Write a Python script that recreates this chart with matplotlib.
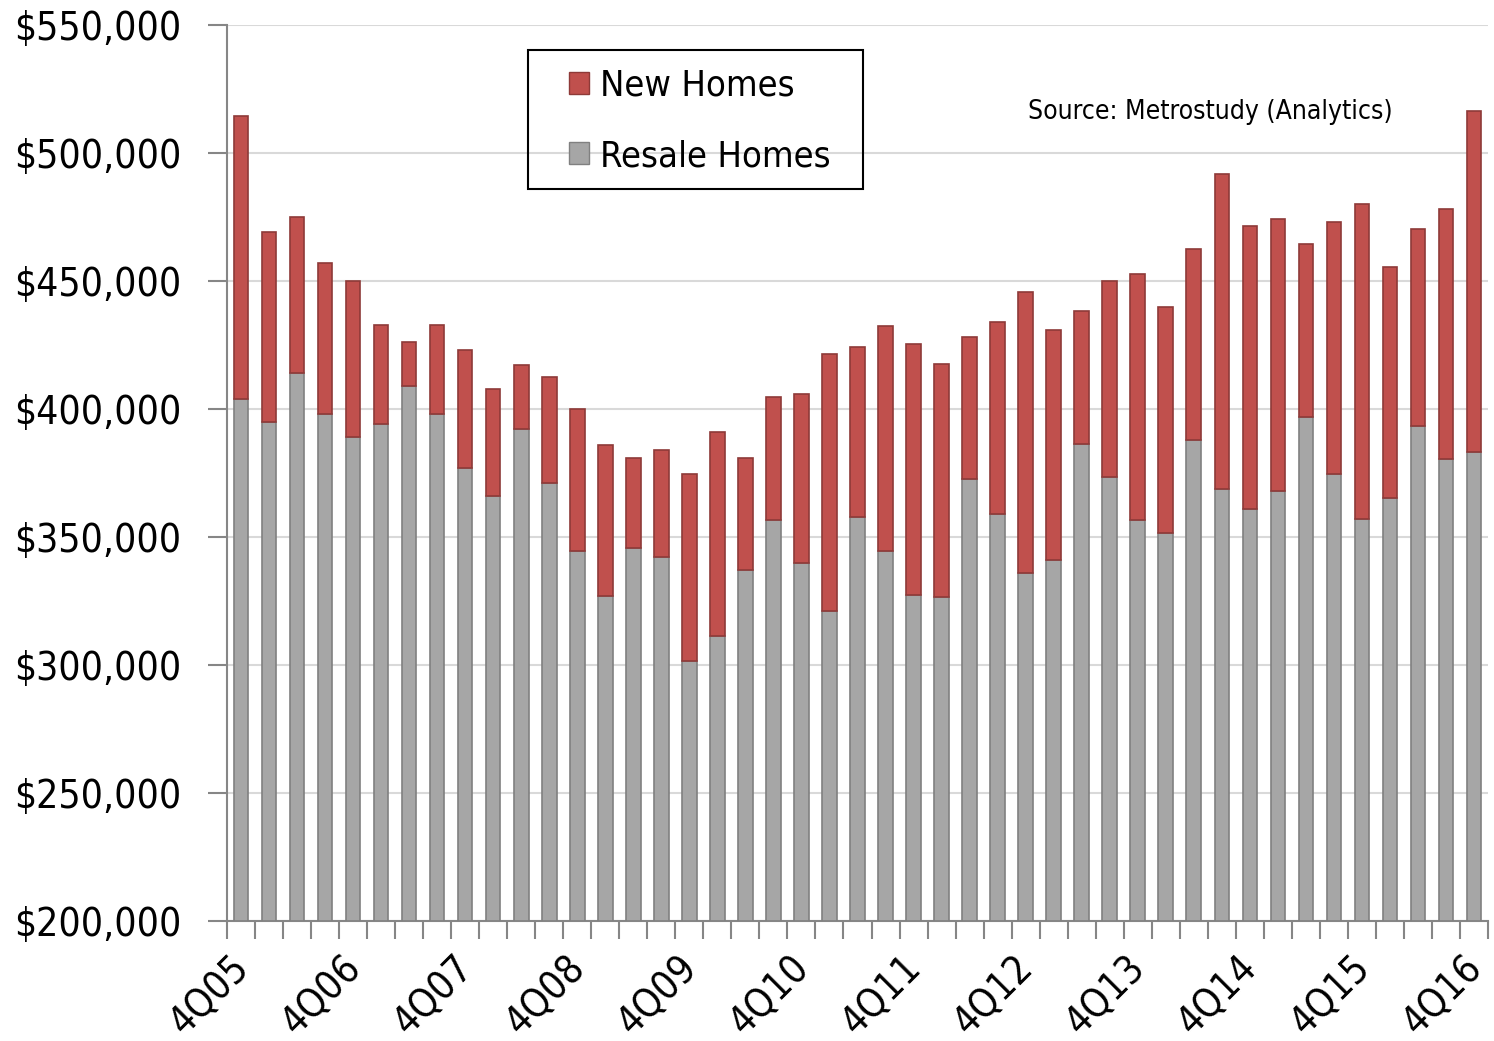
import matplotlib
matplotlib.use('Agg')
import matplotlib.pyplot as plt
import matplotlib.transforms as mtransforms
import numpy as np
from matplotlib.ticker import FuncFormatter, MultipleLocator
from matplotlib.patches import Patch, Rectangle

plt.rcParams['font.family'] = ['DejaVu Sans']
plt.rcParams['font.stretch'] = 'condensed'

quarters = ['4Q05', '1Q06', '2Q06', '3Q06', '4Q06', '1Q07', '2Q07', '3Q07',
            '4Q07', '1Q08', '2Q08', '3Q08', '4Q08', '1Q09', '2Q09', '3Q09',
            '4Q09', '1Q10', '2Q10', '3Q10', '4Q10', '1Q11', '2Q11', '3Q11',
            '4Q11', '1Q12', '2Q12', '3Q12', '4Q12', '1Q13', '2Q13', '3Q13',
            '4Q13', '1Q14', '2Q14', '3Q14', '4Q14', '1Q15', '2Q15', '3Q15',
            '4Q15', '1Q16', '2Q16', '3Q16', '4Q16']

new_homes = [514500, 469000, 475000, 457000, 450000, 433000, 426000, 433000,
             423000, 408000, 417000, 412500, 400000, 386000, 381000, 384000,
             374600, 391000, 381000, 404700, 406000, 421500, 424200, 432400,
             425400, 417600, 428100, 434000, 445700, 430900, 438300, 450000,
             452700, 439800, 462500, 491800, 471500, 474200, 464500, 473000,
             480000, 455500, 470300, 478100, 516400]

resale_homes = [404000, 395000, 414000, 398000, 389000, 394000, 409000, 398000,
                377000, 366000, 392000, 371000, 344500, 327000, 345700, 342000,
                301600, 311300, 337000, 356600, 339800, 321000, 357800, 344500,
                327300, 326600, 372700, 359000, 335900, 341000, 386300, 373400,
                356600, 351600, 387900, 368750, 360900, 368000, 396900, 374600,
                357000, 365200, 393400, 380500, 383200]

red = '#C0504D'
red_edge = '#8E3A38'
grey = '#A6A6A6'
grey_edge = '#808080'
spine_col = '#868686'

W, H = 1494, 1041
fig = plt.figure(figsize=(W/100, H/100), dpi=100)
ax = fig.add_axes([227/W, 1 - 921/H, (1488-227)/W, (921-25)/H])

x = np.arange(len(quarters))
new = np.array(new_homes)
resale = np.array(resale_homes)
w = 0.52

ax.bar(x, resale - 200000, bottom=200000, width=w, color=grey,
       edgecolor=grey_edge, linewidth=1.2, zorder=3)
ax.bar(x, new - resale, bottom=resale, width=w, color=red,
       edgecolor=red_edge, linewidth=1.2, zorder=3)

ax.set_xlim(-0.5, len(quarters) - 0.5)
ax.set_ylim(200000, 550000)
ax.yaxis.set_major_locator(MultipleLocator(50000))
ax.yaxis.set_major_formatter(FuncFormatter(lambda v, p: '${:,.0f}'.format(v)))
ax.grid(axis='y', color='#D9D9D9', linewidth=1.5, zorder=0)

for s in ['top', 'right']:
    ax.spines[s].set_visible(False)
for s in ['left', 'bottom']:
    ax.spines[s].set_color(spine_col)
    ax.spines[s].set_linewidth(1.5)

# tick marks sit between the bars, labels every 4th quarter
ax.set_xticks(np.arange(-0.5, len(quarters)), minor=True)
ax.set_xticks(x[::4])
ax.set_xticklabels(quarters[::4], rotation=45, ha='right', va='top',
                   rotation_mode='anchor', fontsize=28)
ax.tick_params(axis='x', which='major', length=0, pad=20)
ax.tick_params(axis='x', which='minor', length=13, width=1.5, color=spine_col)
ax.tick_params(axis='y', length=14, width=1.5, color=spine_col,
               labelsize=28, pad=19)
shift = mtransforms.ScaledTranslation(-12/100, 0, fig.dpi_scale_trans)
for lab in ax.get_xticklabels():
    lab.set_transform(lab.get_transform() + shift)

# legend drawn without frame, box added by hand
handles = [Patch(facecolor=red, edgecolor=red_edge, label='New Homes'),
           Patch(facecolor=grey, edgecolor=grey_edge, label='Resale Homes')]
fig.legend(handles=handles, loc='upper left',
           bbox_to_anchor=(569/W, 1 - 69/H),
           fontsize=26, frameon=False,
           handlelength=0.55, handleheight=0.55, handletextpad=0.3,
           labelspacing=1.0, borderpad=0, borderaxespad=0)
fig.patches.append(Rectangle((528/W, 1 - 189/H), (863-528)/W, (189-50)/H,
                             transform=fig.transFigure, fill=False,
                             edgecolor='black', linewidth=1.5))

fig.text(1028/W, 1 - 112/H, 'Source: Metrostudy (Analytics)',
         fontsize=19, va='center', ha='left')

fig.savefig('out.png', dpi=100)
